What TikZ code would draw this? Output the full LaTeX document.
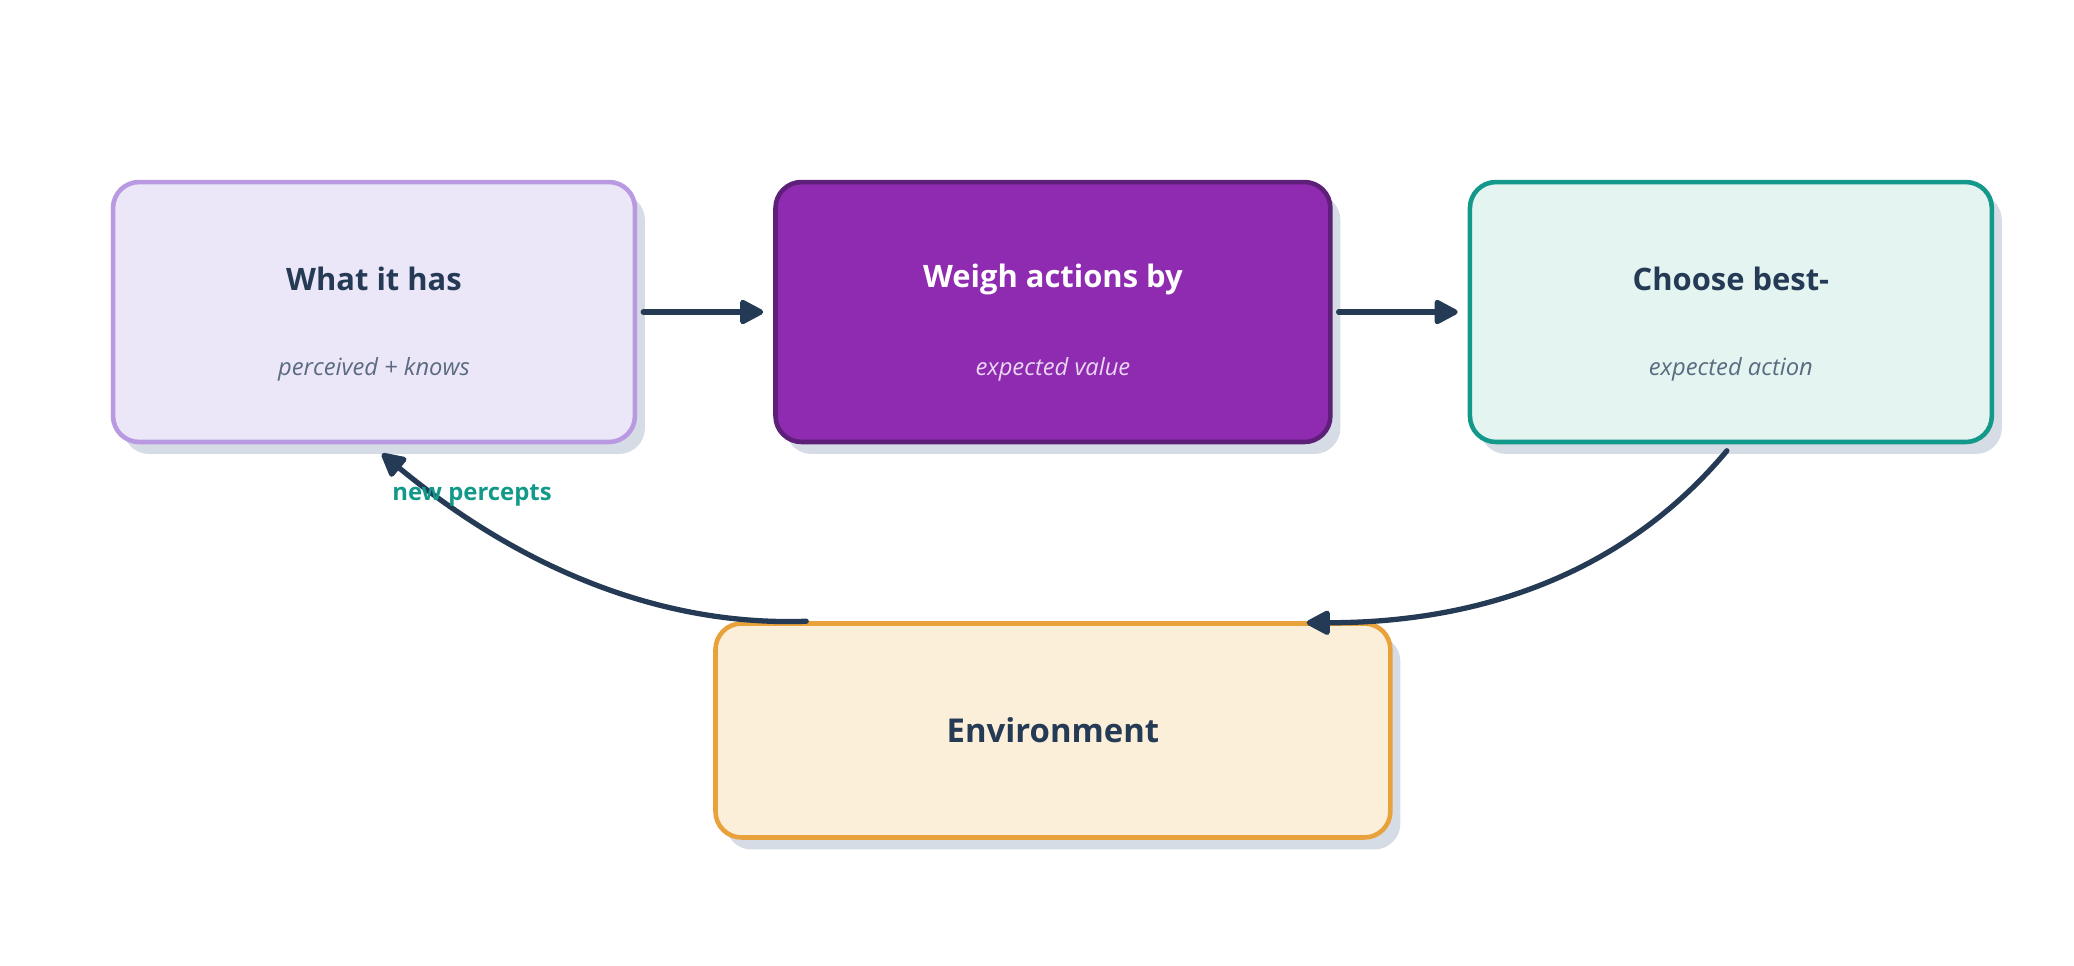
\documentclass[tikz,border=0pt]{standalone}
\usepackage{fontspec}
\setmainfont{Open Sans}
\usetikzlibrary{arrows.meta,positioning,shadows}
\definecolor{ink}{HTML}{243A55}
\definecolor{subgray}{HTML}{5B6B80}
\definecolor{shade}{HTML}{D5DCE5}
\definecolor{lavfill}{HTML}{ECE6F9}
\definecolor{lavline}{HTML}{B99AE2}
\definecolor{plumfill}{HTML}{8E2BB0}
\definecolor{plumline}{HTML}{5E1F78}
\definecolor{plumtext}{HTML}{EBD6F5}
\definecolor{tealfill}{HTML}{E4F4F1}
\definecolor{tealline}{HTML}{13998A}
\definecolor{sandfill}{HTML}{FBEFD9}
\definecolor{sandline}{HTML}{E9A23B}
\tikzset{
  stage/.style={draw,rounded corners=0.52cm,line width=2.6pt,
    minimum width=10.44cm,minimum height=5.2cm,
    drop shadow={shadow xshift=0.2cm,shadow yshift=-0.24cm,fill=shade,opacity=1}},
  headline/.style={font=\fontsize{17.6}{21}\selectfont\bfseries,text=ink},
  subline/.style={font=\fontsize{13.5}{16}\selectfont\itshape,text=subgray},
  flow/.style={-{Triangle[length=15pt,width=15pt,round]},line width=3pt,
    draw=ink,line cap=round}
}

\begin{document}
\begin{tikzpicture}[x=0.02cm,y=-0.02cm]
  \useasboundingbox (0,0) rectangle (2074,965);
  % stages
  \node[stage,fill=lavfill,draw=lavline] (what) at (374,312) {};
  \node[stage,fill=plumfill,draw=plumline,minimum width=11.1cm,
    right=2.72cm of what] (weigh) {};
  \node[stage,fill=tealfill,draw=tealline,right=2.7cm of weigh] (choose) {};
  \node[stage,fill=sandfill,draw=sandline,minimum width=13.5cm,
    minimum height=4.28cm,below=3.54cm of weigh] (env) {};
  % texts
  \node[headline] (what-h) at ([yshift=0.66cm]what.center) {What it has};
  \node[subline] (what-s) at ([yshift=-1.14cm]what.center) {perceived + knows};
  \node[headline,text=white] (weigh-h) at ([yshift=0.66cm]weigh.center) {Weigh actions by};
  \node[subline,text=plumtext] (weigh-s) at ([yshift=-1.14cm]weigh.center) {expected value};
  \node[headline] (choose-h) at ([yshift=0.66cm]choose.center) {Choose best-};
  \node[subline] (choose-s) at ([yshift=-1.14cm]choose.center) {expected action};
  \node[headline,font=\fontsize{18.7}{22}\selectfont\bfseries] (env-h) at (env.center) {Environment};
  % connectors
  \draw[flow] ([xshift=0.12cm]what.east) -- ([xshift=-0.2cm]weigh.west);
  \draw[flow] ([xshift=0.12cm]weigh.east) -- ([xshift=-0.2cm]choose.west);
  \draw[flow] ([xshift=-0.08cm,yshift=-0.13cm]choose.south)
    .. controls +(-96,115) and +(186,0) .. ([xshift=-1.72cm,yshift=-0.03cm]env.north east);
  \draw[flow] ([xshift=1.86cm]env.north west)
    .. controls +(-141,5) and +(143,118) .. ([xshift=0.16cm,yshift=-0.19cm]what.south);
  \node[font=\fontsize{13.6}{16}\selectfont\bfseries,text=tealline] (percepts) at (472,495) {new percepts};
\end{tikzpicture}
\end{document}
